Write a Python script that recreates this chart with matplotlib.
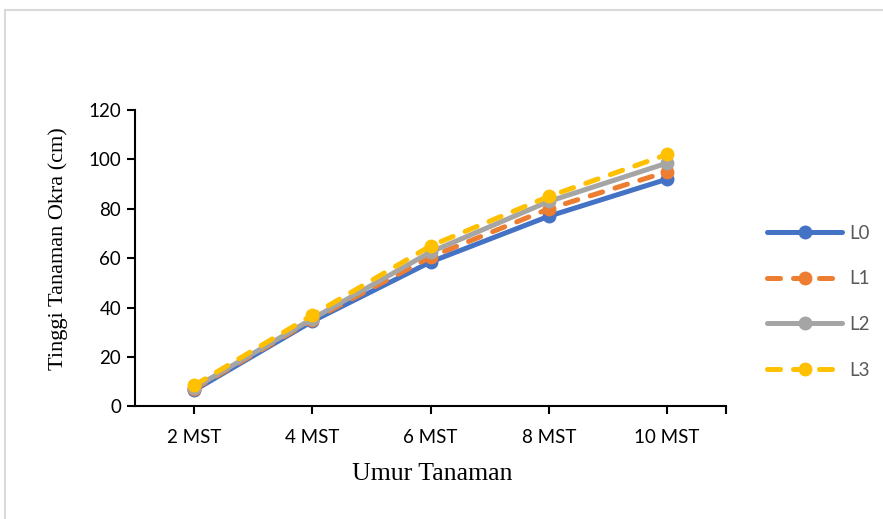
import matplotlib
matplotlib.use("Agg")
import matplotlib.pyplot as plt
from matplotlib.patches import Rectangle

# plant height of okra per treatment (cm)
umur = ["2 MST", "4 MST", "6 MST", "8 MST", "10 MST"]
L0 = [6.5, 34.5, 58.5, 77.0, 92.0]
L1 = [7.0, 35.0, 60.5, 80.0, 95.0]
L2 = [7.5, 35.5, 62.5, 83.0, 98.5]
L3 = [8.5, 37.0, 65.0, 85.0, 102.0]

series = [
    ("L0", L0, "#4472C4", "-"),
    ("L1", L1, "#ED7D31", "--"),
    ("L2", L2, "#A5A5A5", "-"),
    ("L3", L3, "#FFC000", "--"),
]

fig = plt.figure(figsize=(8.83, 5.19), dpi=100)
ax = fig.add_axes([0.1529, 0.2168, 0.6693, 0.5712])

# chart-area border
fig.patches.append(Rectangle((5 / 883, -0.1), 1.2, 1.1 - 10 / 519,
                             transform=fig.transFigure, fill=False,
                             edgecolor="#D9D9D9", linewidth=1.5))

x = list(range(len(umur)))
for name, vals, color, ls in series:
    line, = ax.plot(x, vals, color=color, linestyle=ls, linewidth=3.6,
                    marker="o", markersize=9, label=name,
                    solid_capstyle="round", dash_capstyle="round")
    if ls == "--":
        line.set_dashes((2.6, 2.6))

ax.set_xlim(-0.5, 4.5)
ax.set_ylim(0, 120)
ax.set_yticks(range(0, 121, 20))
ax.set_xticks(x + [4.5])
ax.set_xticklabels(umur + [""])

for s in ["top", "right"]:
    ax.spines[s].set_visible(False)
for s in ["left", "bottom"]:
    ax.spines[s].set_linewidth(1.5)
    ax.spines[s].set_color("black")

ax.tick_params(axis="both", direction="out", length=6, width=1.5,
               labelsize=13.5, colors="black", pad=4)
ax.tick_params(axis="x", pad=10)
for lab in ax.get_xticklabels() + ax.get_yticklabels():
    lab.set_fontfamily("Lato")

fig.text(0.489, 1 - 474 / 519, "Umur Tanaman", family="Liberation Serif",
         fontsize=18.5, ha="center", va="center")
fig.text(58 / 883, 1 - 249 / 519, "Tinggi Tanaman Okra (cm)",
         family="Liberation Serif", fontsize=16, rotation=90,
         ha="center", va="center")

leg = ax.legend(loc="upper left", bbox_to_anchor=(767 / 883, 1 - 225 / 519),
                bbox_transform=fig.transFigure, frameon=False,
                borderaxespad=0, borderpad=0,
                prop={"family": "Lato", "size": 13.5}, handlelength=4,
                labelspacing=1.52, handletextpad=0.4)
for t in leg.get_texts():
    t.set_color("#595959")

fig.savefig("out.png", dpi=100)
